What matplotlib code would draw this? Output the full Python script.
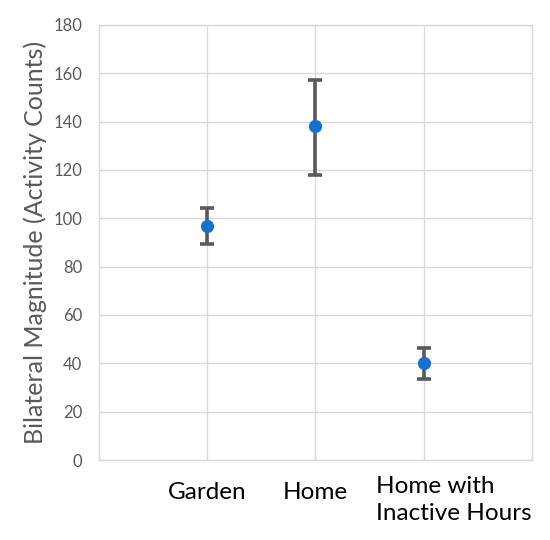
import matplotlib
matplotlib.use("Agg")
import matplotlib.pyplot as plt
import matplotlib.transforms as mtransforms

plt.rcParams['font.family'] = ['Lato', 'DejaVu Sans']

categories = ["Garden", "Home", "Home with\nInactive Hours"]
means = [96.8, 138.2, 40.3]
upper = [104.3, 157.2, 46.5]
lower = [89.4, 117.9, 33.6]

x = list(range(1, len(categories) + 1))
err_low = [m - l for m, l in zip(means, lower)]
err_high = [u - m for m, u in zip(means, upper)]

fig = plt.figure(figsize=(5.5, 5.4), dpi=100)
ax = fig.add_axes([0.18, 0.148, 0.787, 0.806])

ax.errorbar(x, means, yerr=[err_low, err_high], fmt='o', color='#1570CF',
            markersize=8.5, ecolor='#595959', elinewidth=2.6, capsize=5,
            capthick=2.6, zorder=3)

ax.set_xlim(0, 4)
ax.set_ylim(0, 180)
ax.set_yticks(range(0, 181, 20))
ax.set_xticks(x)
ax.set_xticklabels(categories, fontsize=17.5, color='black', linespacing=1.35)
ax.grid(True, color='#d9d9d9', linewidth=1)
for s in ax.spines.values():
    s.set_color('#d9d9d9')
    s.set_linewidth(1)
ax.tick_params(axis='both', length=0)
ax.tick_params(axis='y', labelsize=12, labelcolor='#595959', pad=12)
ax.tick_params(axis='x', pad=16)

labels = ax.get_xticklabels()
last = labels[-1]
last.set_multialignment('left')
last.set_transform(last.get_transform() + mtransforms.ScaledTranslation(0.3, 0.06, fig.dpi_scale_trans))

ax.set_ylabel("Bilateral Magnitude (Activity Counts)", fontsize=18, color='#595959', labelpad=5)

fig.savefig("out.png", dpi=100)
